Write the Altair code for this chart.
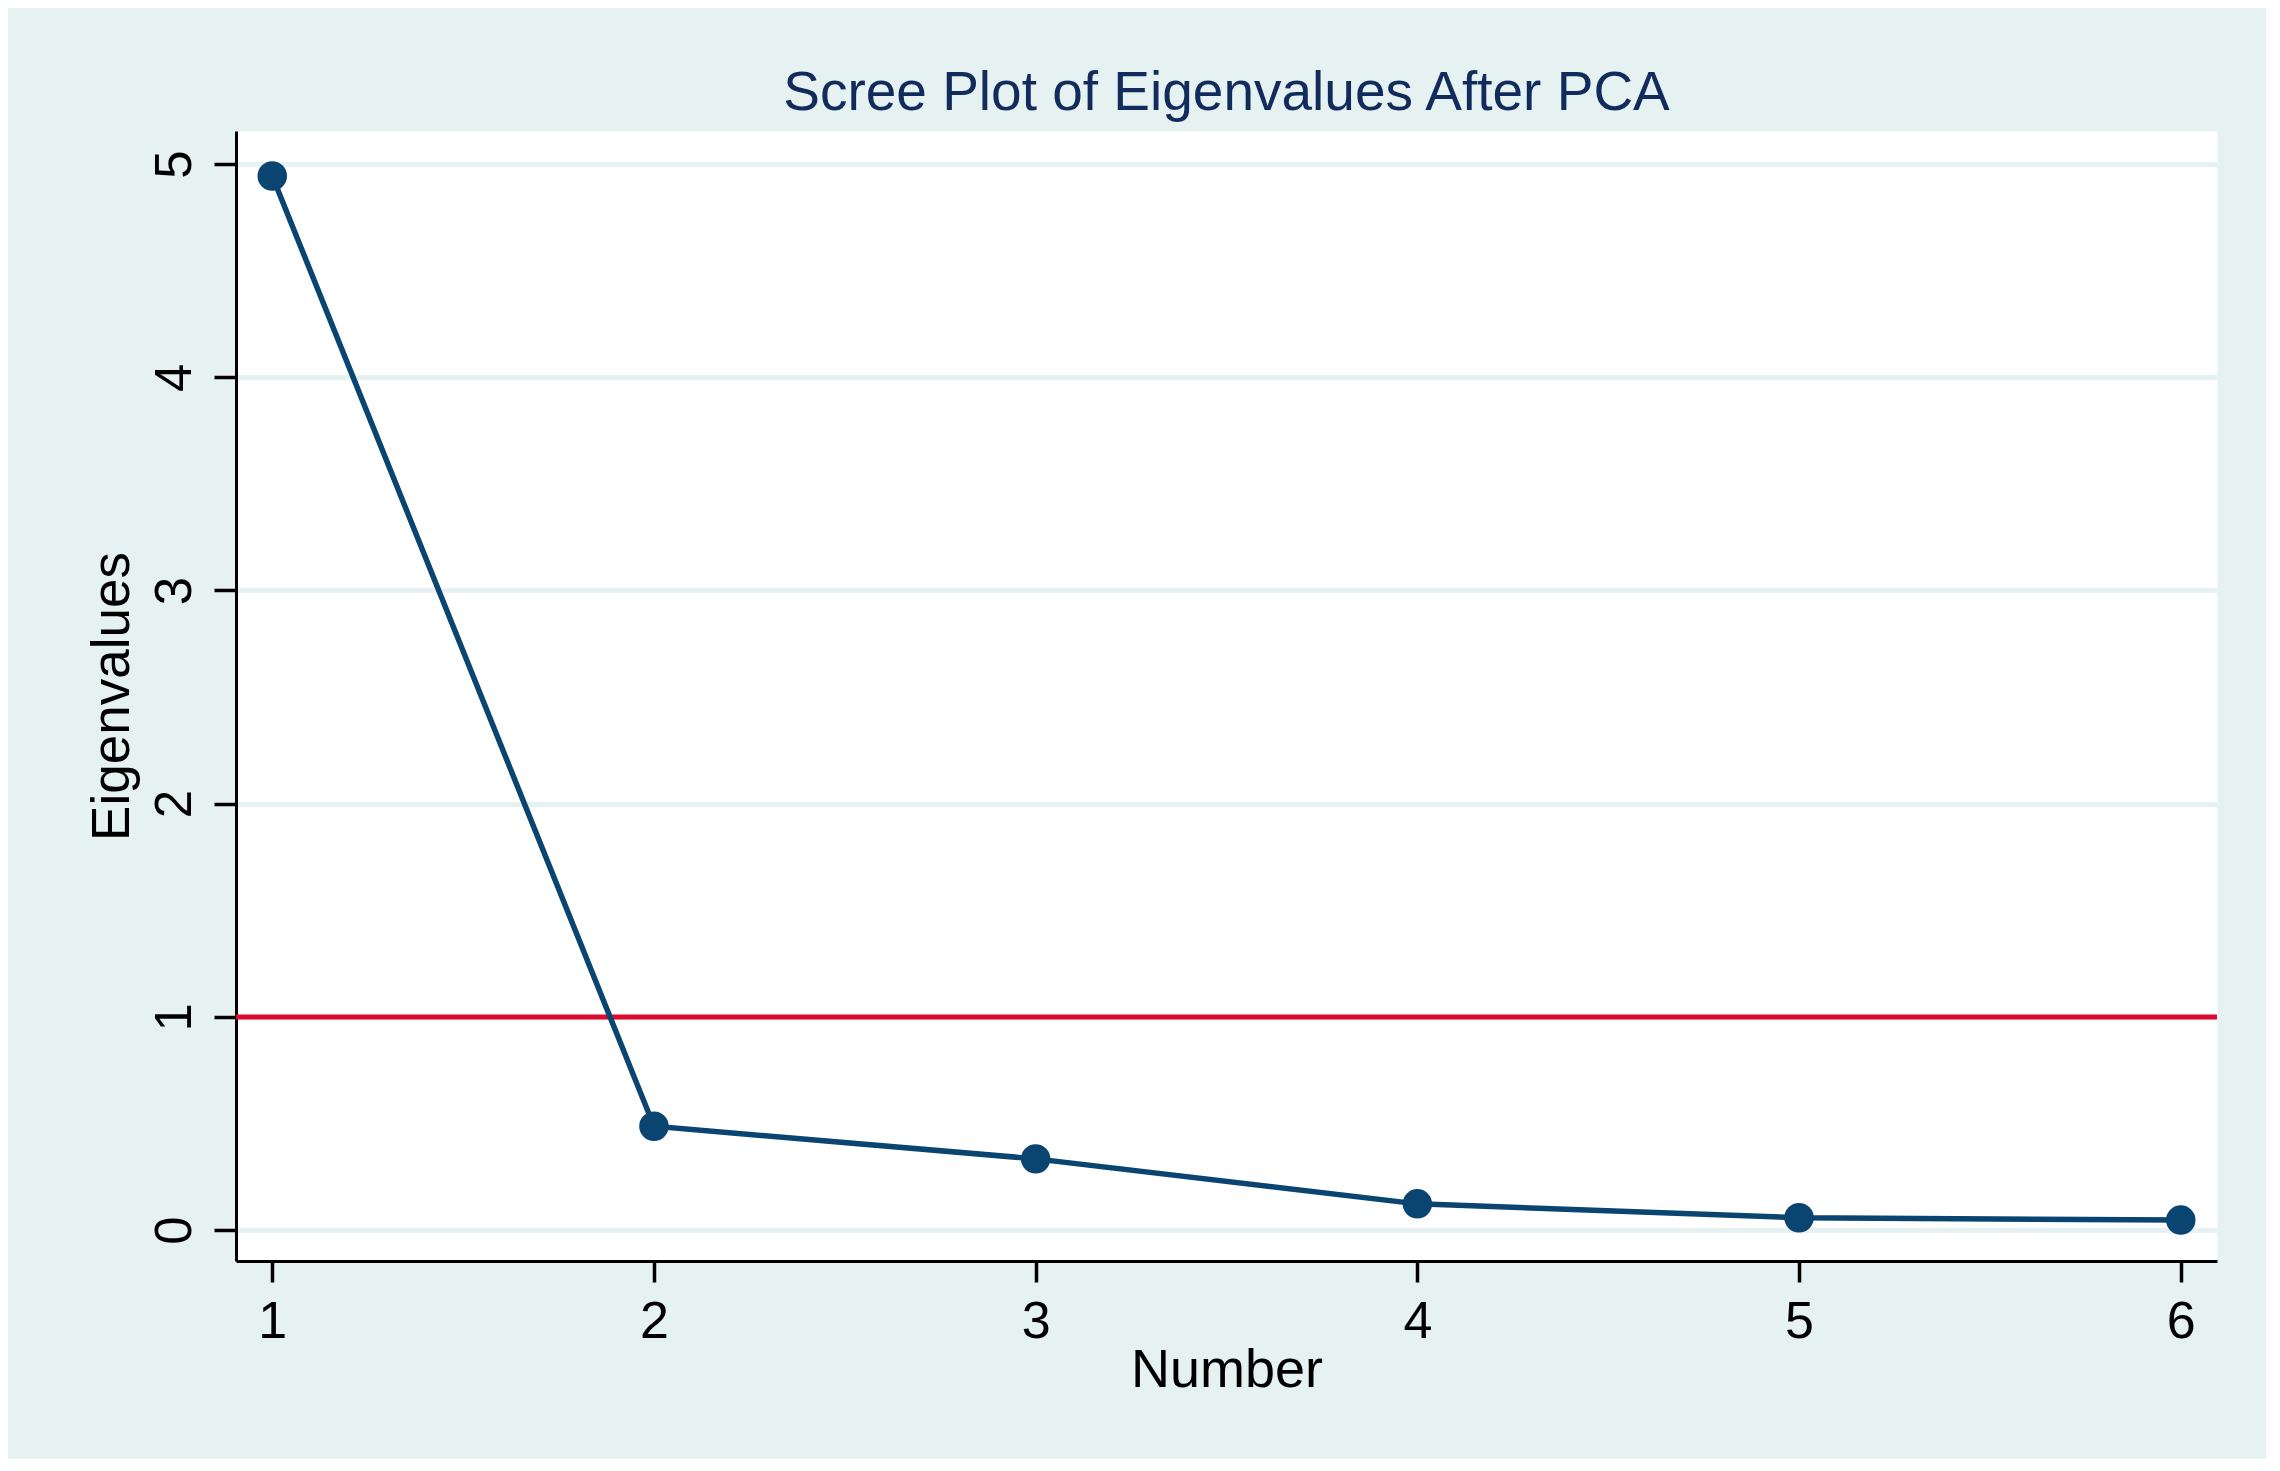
import altair as alt
import pandas as pd

number = [1, 2, 3, 4, 5, 6]
eigenvalues = [4.944, 0.487, 0.334, 0.123, 0.058, 0.047]
x_ticks = [1, 2, 3, 4, 5, 6]
y_ticks = [0, 1, 2, 3, 4, 5]
ref_value = [1]

df = pd.DataFrame({"Number": number, "Eigenvalues": eigenvalues})
ref = pd.DataFrame({"ref": ref_value})

BG = "#e6f1f1"
NAVY = "#0a4470"
FONT = "Liberation Sans"

x_scale = alt.Scale(domain=[0.905, 6.095], nice=False, zero=False)
y_scale = alt.Scale(domain=[-0.145, 5.155], nice=False, zero=False)

x_axis = alt.Axis(
    values=x_ticks, format="d", grid=False,
    domainColor="black", domainWidth=3,
    tickColor="black", tickWidth=3.5, tickSize=21,
    labelFont=FONT, labelFontSize=52, labelColor="black",
    labelBaseline="alphabetic", labelPadding=55, labelFlush=False,
    title="Number", titleFont=FONT, titleFontSize=54, titleFontWeight="normal",
    titleColor="black", titleBaseline="alphabetic", titleAlign="center",
    titleX=990.5, titleY=125,
)
y_axis = alt.Axis(
    values=y_ticks, format="d", grid=True, gridColor=BG, gridWidth=5,
    domainColor="black", domainWidth=3,
    tickColor="black", tickWidth=3.5, tickSize=22,
    labelFont=FONT, labelFontSize=51, labelColor="black",
    labelAngle=270, labelAlign="center", labelBaseline="alphabetic",
    labelPadding=24, labelFlush=False,
    title="Eigenvalues", titleFont=FONT, titleFontSize=53, titleFontWeight="normal",
    titleColor="black", titleAngle=270, titleAlign="center",
    titleBaseline="alphabetic", titleX=-108, titleY=565,
)

base = alt.Chart(df)

rule = alt.Chart(ref).mark_rule(color="#dc0a30", strokeWidth=5).encode(
    y=alt.Y("ref:Q", scale=y_scale, axis=y_axis)
)

line = base.mark_line(color=NAVY, strokeWidth=5.5).encode(
    x=alt.X("Number:Q", scale=x_scale, axis=x_axis),
    y=alt.Y("Eigenvalues:Q", scale=y_scale, axis=y_axis),
)

points = base.mark_point(filled=True, shape="circle", size=870, color=NAVY, opacity=1).encode(
    x=alt.X("Number:Q", scale=x_scale, axis=x_axis),
    y=alt.Y("Eigenvalues:Q", scale=y_scale, axis=y_axis),
)

chart = alt.layer(rule, line, points).properties(
    width=1981,
    height=1130,
    padding={"left": 228, "top": 123, "right": 49, "bottom": 198},
    autosize=alt.AutoSizeParams(type="none"),
    background=BG,
    title=alt.TitleParams(
        "Scree Plot of Eigenvalues After PCA",
        font=FONT, fontSize=55, fontWeight="normal", color="#112c5c",
        anchor="middle", frame="group", baseline="alphabetic", offset=-34,
    ),
).configure_view(fill="white", stroke="transparent")

chart.save("out.html", embed_options={"renderer": "svg", "actions": False})
